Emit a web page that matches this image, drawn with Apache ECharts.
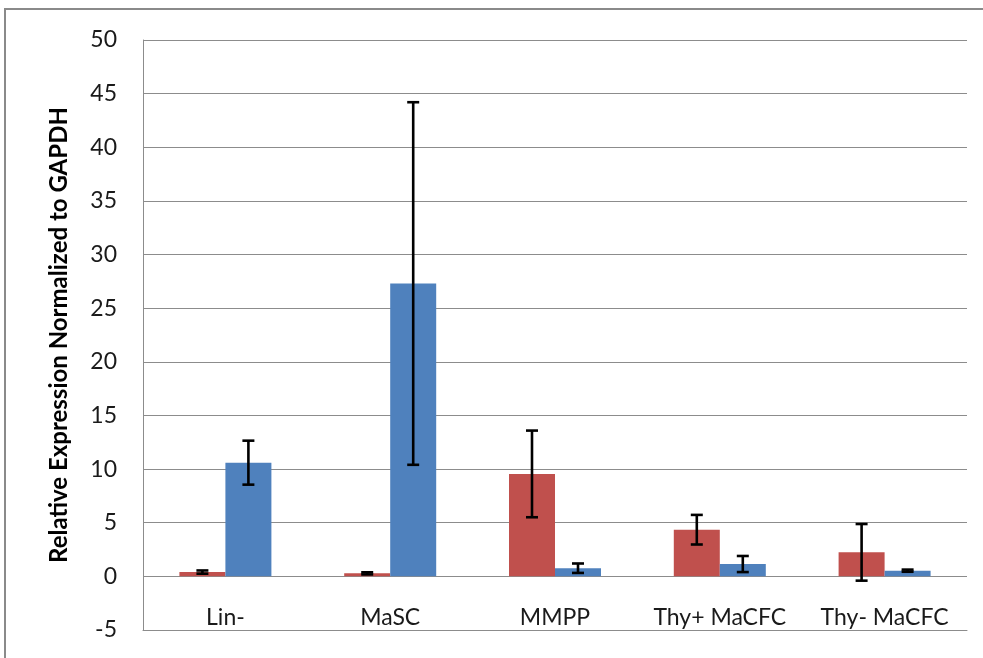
<!DOCTYPE html>
<html>
<head>
<meta charset="utf-8">
<script src="https://cdn.jsdelivr.net/npm/echarts@6/dist/echarts.min.js"></script>
<style>html,body{margin:0;padding:0;background:#fff}#c{width:983px;height:658px}</style>
</head>
<body>
<div id="c"></div>
<script>
const categories = ['Lin-', 'MaSC', 'MMPP', 'Thy+ MaCFC', 'Thy- MaCFC'];
const redValues = [0.4, 0.28, 9.55, 4.35, 2.24];
const redErrors = [0.15, 0.1, 4.04, 1.38, 2.64];
const blueValues = [10.6, 27.3, 0.76, 1.15, 0.53];
const blueErrors = [2.05, 16.9, 0.44, 0.75, 0.1];
const yTicks = { min: -5, max: 50, interval: 5 };
const yTitle = 'Relative Expression Normalized to GAPDH';

const RED = '#C0504D', BLUE = '#4F81BD';
const BAR_W = 46;
const FONT = 'Lato, "Open Sans", sans-serif';

function errSeries(values, errors, offset) {
  return {
    type: 'custom',
    z: 10,
    data: values.map((v, i) => [i, v, errors[i]]),
    renderItem: function (params, api) {
      const i = api.value(0), v = api.value(1), e = api.value(2);
      const top = api.coord([i, v + e]);
      const bot = api.coord([i, v - e]);
      const x = top[0] + offset;
      const cap = 6;
      const style = { stroke: '#000', lineWidth: 2.6 };
      return {
        type: 'group',
        children: [
          { type: 'line', shape: { x1: x, y1: top[1], x2: x, y2: bot[1] }, style: style },
          { type: 'line', shape: { x1: x - cap, y1: top[1], x2: x + cap, y2: top[1] }, style: style },
          { type: 'line', shape: { x1: x - cap, y1: bot[1], x2: x + cap, y2: bot[1] }, style: style }
        ]
      };
    }
  };
}

const chart = echarts.init(document.getElementById('c'), null, { renderer: 'canvas' });
chart.setOption({
  animation: false,
  backgroundColor: '#fff',
  graphic: [{
    type: 'rect', z: -1, silent: true,
    shape: { x: 5, y: 9, width: 1100, height: 800 },
    style: { fill: 'none', stroke: '#8a8a8a', lineWidth: 2 }
  }],
  grid: { left: 143, right: 16, top: 40, bottom: 28, containLabel: false, outerBoundsMode: 'none' },
  xAxis: {
    type: 'category',
    data: categories,
    axisLine: { onZero: false, lineStyle: { color: '#8c8c8c', width: 1 } },
    axisTick: { show: false },
    axisLabel: { inside: true, interval: 0, margin: 1, fontSize: 23, color: '#1a1a1a', fontFamily: FONT }
  },
  yAxis: {
    type: 'value',
    min: yTicks.min, max: yTicks.max, interval: yTicks.interval,
    name: yTitle,
    nameLocation: 'middle',
    nameGap: 72,
    nameTextStyle: { fontSize: 24, fontWeight: 'bold', color: '#000', fontFamily: FONT },
    axisLine: { show: true, lineStyle: { color: '#8c8c8c', width: 1 } },
    axisTick: { show: false },
    axisLabel: { margin: 26, fontSize: 23, color: '#1a1a1a', fontFamily: FONT },
    splitLine: { show: true, lineStyle: { color: '#8c8c8c', width: 1 } }
  },
  series: [
    { type: 'bar', data: redValues, barWidth: BAR_W, barGap: '0%', itemStyle: { color: RED } },
    { type: 'bar', data: blueValues, barWidth: BAR_W, barGap: '0%', itemStyle: { color: BLUE } },
    errSeries(redValues, redErrors, -BAR_W / 2),
    errSeries(blueValues, blueErrors, BAR_W / 2)
  ]
});
</script>
</body>
</html>
